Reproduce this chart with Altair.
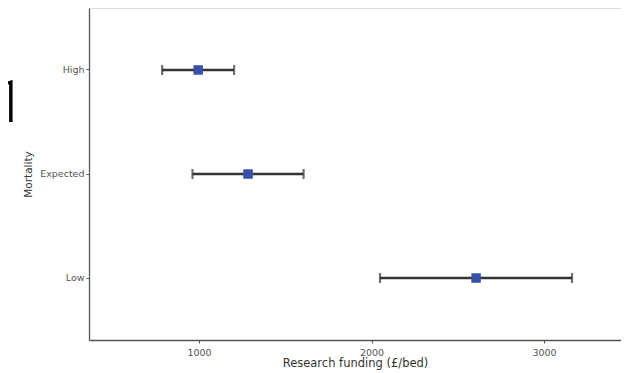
import altair as alt
import pandas as pd

mortality = ["High", "Expected", "Low"]
funding_mean = [995, 1284, 2606]
funding_low = [786, 962, 2049]
funding_high = [1203, 1606, 3162]
x_ticks = [1000, 2000, 3000]

df = pd.DataFrame({"mortality": mortality, "mean": funding_mean,
                   "lo": funding_low, "hi": funding_high})

FONT = "DejaVu Sans"
xscale = alt.Scale(domain=[362, 3446], nice=False, zero=False)
yscale = alt.Scale(domain=mortality, paddingInner=0, paddingOuter=0.096)

xax = alt.Axis(values=x_ticks, format="d", title="Research funding (£/bed)", grid=False,
               domainColor="#555", domainWidth=1.3, tickColor="#555", tickSize=3,
               labelColor="#555", labelFontSize=9.5, labelPadding=4,
               titleFontSize=11.5, titleFontWeight="normal", titleColor="#333",
               titlePadding=1, labelFont=FONT, titleFont=FONT)
yax = alt.Axis(title="Mortality", grid=False,
               domainColor="#555", domainWidth=1.3, tickColor="#555", tickSize=3,
               labelColor="#555", labelFontSize=9.5, labelPadding=2,
               titleFontSize=10.5, titleFontWeight="normal", titleColor="#333",
               titlePadding=6, labelFont=FONT, titleFont=FONT)

base = alt.Chart(df)

rule = base.mark_rule(color="#333333", strokeWidth=2.6).encode(
    x=alt.X("lo:Q", scale=xscale, axis=xax),
    x2="hi:Q",
    y=alt.Y("mortality:N", scale=yscale, axis=yax, sort=mortality),
)
cap_lo = base.mark_tick(color="#333333", thickness=2.2, size=10).encode(
    x=alt.X("lo:Q", scale=xscale),
    y=alt.Y("mortality:N", scale=yscale, sort=mortality),
)
cap_hi = base.mark_tick(color="#333333", thickness=2.2, size=10).encode(
    x=alt.X("hi:Q", scale=xscale),
    y=alt.Y("mortality:N", scale=yscale, sort=mortality),
)
pts = base.mark_square(color="#3a4fa8", opacity=1, size=90).encode(
    x=alt.X("mean:Q", scale=xscale),
    y=alt.Y("mortality:N", scale=yscale, sort=mortality),
)

stray = alt.Chart(pd.DataFrame({"t": ["1"]})).mark_text(
    fontSize=60, font="Roboto", fontWeight=300, align="center", baseline="alphabetic",
    color="black"
).encode(text="t:N", x=alt.value(-80), y=alt.value(114))

chart = alt.layer(rule, cap_lo, cap_hi, pts, stray).properties(
    width=532, height=332,
    autosize=alt.AutoSizeParams(type="none"),
    padding={"left": 81, "top": 0, "right": 0, "bottom": 30},
).configure_view(stroke=None).configure(background="white")

chart.save("out.html", embed_options={"renderer": "svg", "actions": False})
